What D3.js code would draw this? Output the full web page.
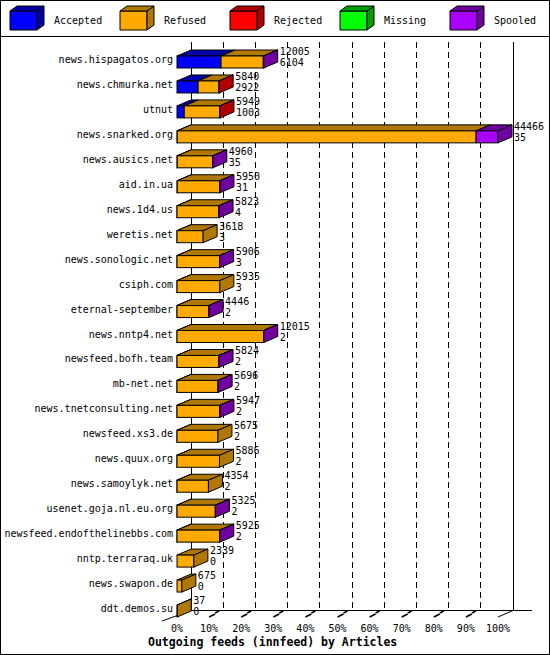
<!DOCTYPE html>
<html><head><meta charset="utf-8">
<script src="https://cdn.jsdelivr.net/npm/d3@7"></script>
<style>body{margin:0;background:#fff}text{font-family:"DejaVu Sans Mono",monospace;font-size:10px}</style>
</head><body><div id="chart"></div>
<script>
let hosts = ["news.hispagatos.org","news.chmurka.net","utnut","news.snarked.org","news.ausics.net","aid.in.ua","news.1d4.us","weretis.net","news.sonologic.net","csiph.com","eternal-september","news.nntp4.net","newsfeed.bofh.team","mb-net.net","news.tnetconsulting.net","newsfeed.xs3.de","news.quux.org","news.samoylyk.net","usenet.goja.nl.eu.org","newsfeed.endofthelinebbs.com","nntp.terraraq.uk","news.swapon.de","ddt.demos.su"];
let totals   = [12005,5840,5949,44466,4960,5950,5823,3618,5906,5935,4446,12015,5824,5696,5947,5675,5886,4354,5325,5925,2339,675,37];
let accepted = [6104,2922,1003,35,35,31,4,3,3,3,2,2,2,2,2,2,2,2,2,2,0,0,0];
let refused  = [5851,2898,4926,41400,4905,5899,5799,3615,5883,5932,4424,11993,5802,5674,5925,5673,5884,4352,5303,5903,2339,675,37];
let rejected = [0,20,20,0,0,0,0,0,0,0,0,0,0,0,0,0,0,0,0,0,0,0,0];
let missing  = [0,0,0,0,0,0,0,0,0,0,0,0,0,0,0,0,0,0,0,0,0,0,0];
let spooled  = [50,0,0,3031,20,20,20,0,20,0,20,20,20,20,20,0,0,0,20,20,0,0,0];
let series = ["Accepted","Refused","Rejected","Missing","Spooled"];
let fronts = ["#0000ff","#ffaa00","#ff0000","#00ff00","#aa00ff"];
let sides  = ["#0000a8","#b07800","#b00000","#00a000","#7000a0"];
let ticks = d3.range(0,101,10);

let W=550,H=655, dx=14, dy=6, bh=12;
let svg=d3.select("#chart").append("svg").attr("width",W).attr("height",H);
svg.append("rect").attr("x",0.5).attr("y",0.5).attr("width",W-1).attr("height",H-1).attr("fill","#fff").attr("stroke","#000");
svg.append("line").attr("x1",0).attr("x2",W).attr("y1",36.5).attr("y2",36.5).attr("stroke","#000");

// legend
let lg=svg.selectAll("g.lg").data(series).enter().append("g").attr("transform",(d,i)=>`translate(${10+i*110},0)`);
lg.append("path").attr("d","M0,11 L27,11 L27,30 L0,30 Z").attr("fill",(d,i)=>fronts[i]).attr("stroke","#000");
lg.append("path").attr("d","M27,11 L34,6 L34,25 L27,30 Z").attr("fill",(d,i)=>sides[i]).attr("stroke","#000");
lg.append("path").attr("d","M0,11 L7,6 L34,6 L27,11 Z").attr("fill",(d,i)=>sides[i]).attr("stroke","#000");
lg.append("text").attr("x",44).attr("y",24).text(d=>d);

let x=d3.scaleLinear().domain([0,d3.max(totals)]).range([177,498]);
let xp=d3.scaleLinear().domain([0,100]).range([177,498]);
let y=d3.scalePoint().domain(hosts).range([59,608]);

// back wall
svg.append("line").attr("x1",191.5).attr("x2",191.5).attr("y1",42).attr("y2",610).attr("stroke","#000");
svg.append("line").attr("x1",513.5).attr("x2",513.5).attr("y1",42).attr("y2",610).attr("stroke","#000");
svg.selectAll("line.grid").data(ticks.slice(1,10)).enter().append("line")
  .attr("x1",d=>Math.round(xp(d)+dx)+0.5).attr("x2",d=>Math.round(xp(d)+dx)+0.5)
  .attr("y1",42).attr("y2",610).attr("stroke","#000").attr("stroke-dasharray","6,4");
// floor
svg.append("path").attr("d","M162,621 L191,610.5 L532,610.5 M498,617 L513,610.5").attr("fill","none").attr("stroke","#000");
svg.selectAll("path.tk").data(ticks.slice(1,10)).enter().append("path")
  .attr("d",d=>{let t=xp(d);return `M${t},617 L${t+6},614 M${t+6},613 L${t+10},611`;})
  .attr("stroke","#000").attr("stroke-width",1.5).attr("fill","none");
svg.selectAll("text.tl").data(ticks).enter().append("text")
  .attr("x",d=>xp(d)).attr("y",632).attr("text-anchor","middle").text(d=>d+"%");
svg.append("text").attr("x",148).attr("y",646).attr("font-weight","bold").style("font-size","11.5px").text("Outgoing feeds (innfeed) by Articles");

// bars
let vals=[accepted,refused,rejected,missing,spooled];
hosts.forEach((h,r)=>{
  let cy=y(h), top=cy-3, g=svg.append("g");
  let acc=0, last=0, segs=[];
  vals.forEach((v,k)=>{ if(v[r]>0){segs.push({k,a:acc,b:acc+v[r]}); acc+=v[r]; last=k;} });
  segs.forEach(s=>{
    let x0=x(s.a), x1=x(s.b);
    g.append("path").attr("d",`M${x0},${top} L${x0+dx},${top-dy} L${x1+dx},${top-dy} L${x1},${top} Z`)
      .attr("fill",sides[s.k]).attr("stroke","#000");
    g.append("rect").attr("x",x0).attr("y",top).attr("width",x1-x0).attr("height",bh)
      .attr("fill",fronts[s.k]).attr("stroke","#000");
  });
  let xe=x(acc);
  g.append("path").attr("d",`M${xe},${top} L${xe+dx},${top-dy} L${xe+dx},${top+bh-dy} L${xe},${top+bh} Z`)
    .attr("fill",sides[last]).attr("stroke","#000");
  svg.append("text").attr("x",173).attr("y",cy+4).attr("text-anchor","end").text(h);
  svg.append("text").attr("x",xe+dx+2).attr("y",cy-4).text(totals[r]);
  svg.append("text").attr("x",xe+dx+2).attr("y",cy+7).text(accepted[r]);
});
</script></body></html>
